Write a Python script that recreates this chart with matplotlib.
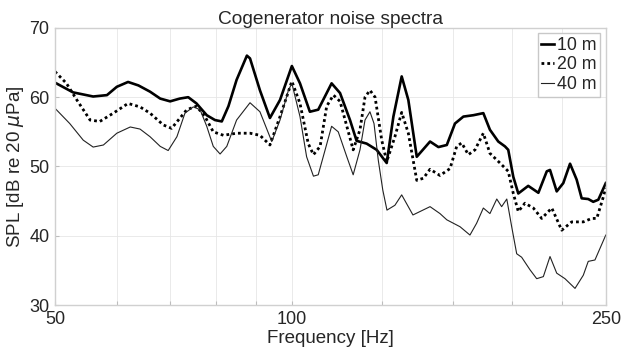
import matplotlib
matplotlib.use("Agg")
import matplotlib.pyplot as plt
from matplotlib.ticker import FixedLocator, NullFormatter, FixedFormatter

plt.rcParams['font.family'] = ['Liberation Sans', 'DejaVu Sans']

# 10 m
f10 = [50, 52.7, 55.9, 58.2, 59.9, 61.9, 63.8, 66.0, 68.0, 70.0, 72.0, 73.8, 75.6, 77.9, 79.8, 81.4, 83.0,
       85.0, 87.6, 88.4, 91.0, 93.7, 96.5, 99.9, 102.3, 105.3, 107.9, 112.2, 115.0, 118.4, 120.7, 124.3,
       128.0, 131.8, 134.4, 137.7, 140.4, 143.9, 149.6, 153.3, 157.1, 160.9, 164.9, 169.8, 174.8, 178.2,
       182.6, 186.2, 188.0, 190.8, 193.6, 199.3, 205.3, 210.4, 212.4, 216.6, 220.8, 225.2, 229.6, 233.0,
       237.5, 241.0, 244.6, 250]
spl10 = [62.1, 60.7, 60.1, 60.3, 61.5, 62.2, 61.7, 60.8, 59.8, 59.4, 59.8, 60.0, 59.1, 57.4, 56.7, 56.5, 58.7,
         62.5, 66.0, 65.6, 61.0, 57.0, 59.6, 64.5, 62.0, 57.9, 58.2, 62.0, 60.6, 56.7, 53.7, 53.3,
         52.4, 50.5, 57.2, 63.0, 59.6, 51.4, 53.6, 52.8, 53.1, 56.2, 57.2, 57.4, 57.7, 55.3,
         53.6, 52.9, 52.4, 48.5, 46.1, 47.2, 46.2, 49.3, 49.5, 46.4, 47.6, 50.4, 48.1, 45.4,
         45.3, 44.9, 45.2, 47.6]

# 20 m
f20 = [50, 51.7, 53.3, 55.4, 57.0, 59.3, 61.9, 64.1, 66.0, 68.6, 70.3, 71.7, 73.5, 75.6, 77.5, 79.4, 81.8,
       85.0, 88.4, 91.0, 93.7, 96.5, 99.9, 102.3, 104.8, 106.4, 108.5, 110.6, 112.8, 115.0, 117.3, 119.5,
       121.9, 123.7, 125.5, 127.4, 129.9, 131.8, 135.0, 137.7, 140.4, 143.9, 146.7, 149.6, 154.0, 158.6,
       161.7, 164.1, 167.3, 170.6, 174.8, 178.2, 183.5, 188.0, 190.8, 193.6, 197.4, 202.3, 207.3, 213.5,
       219.8, 226.3, 234.1, 239.9, 243.5, 248.2, 250]
spl20 = [63.7, 62.0, 59.6, 56.7, 56.5, 57.7, 59.1, 58.6, 57.7, 56.0, 55.5, 56.7, 58.2, 58.7, 57.2, 55.0, 54.5,
         54.8, 54.8, 54.5, 53.1, 57.2, 62.3, 59.1, 53.3, 51.7, 52.9, 58.7, 60.3, 59.4, 55.8, 52.4,
         55.3, 60.0, 61.0, 60.0, 53.8, 50.7, 54.3, 57.8, 54.8, 48.0, 48.3, 49.6, 48.7, 49.7,
         52.9, 53.4, 51.7, 52.4, 54.8, 51.9, 50.5, 49.3, 46.1, 43.5, 44.7, 44.0, 42.5, 44.0,
         40.8, 42.0, 42.0, 42.5, 42.5, 45.6, 46.9]

# 40 m
f40 = [50, 52.2, 54.3, 55.9, 57.6, 59.9, 62.3, 64.1, 66.0, 68.0, 69.6, 71.4, 73.1, 74.9, 76.4, 77.9, 79.4,
       81.0, 82.6, 85.0, 88.4, 91.0, 94.2, 96.5, 98.9, 99.9, 102.3, 104.3, 106.4, 107.9, 110.1, 112.2,
       114.4, 117.3, 119.5, 121.9, 123.7, 125.5, 127.0, 128.6, 130.3, 131.9, 135.0, 137.7, 142.3, 149.6,
       154.0, 157.1, 163.3, 168.1, 171.4, 174.8, 178.2, 181.8, 184.4, 187.2, 189.9, 192.7, 195.5, 200.3,
       204.3, 208.3, 212.4, 216.6, 221.9, 228.5, 234.1, 237.5, 242.2, 250]
spl40 = [58.4, 56.2, 53.8, 52.8, 53.1, 54.8, 55.7, 55.4, 54.3, 52.9, 52.3, 54.3, 57.7, 58.6, 58.2, 55.8, 52.9,
         51.8, 52.9, 56.7, 59.2, 57.9, 53.6, 56.7, 61.0, 62.0, 57.2, 51.4, 48.6, 48.8, 52.4, 55.8,
         55.0, 51.4, 48.8, 52.4, 56.7, 57.9, 56.2, 50.9, 46.6, 43.7, 44.4, 45.9, 43.0, 44.2,
         43.2, 42.3, 41.3, 40.1, 41.8, 44.0, 43.2, 45.3, 44.2, 45.3, 41.3, 37.4, 36.9, 35.1,
         33.8, 34.1, 37.0, 34.6, 33.8, 32.4, 34.3, 36.3, 36.5, 40.1]

labels = ['10 m', '20 m', '40 m']
xticks = [50, 60, 70, 80, 90, 100, 130, 160, 190, 220, 250]
xticklabels = ['50', '', '', '', '', '100', '', '', '', '', '250']
yticks = [30, 40, 50, 60, 70]

fig = plt.figure(figsize=(6.35, 3.58), dpi=100)
ax = fig.add_axes([0.0866, 0.148, 0.8674, 0.774])

txt = '#262626'
ax.plot(f10, spl10, color='black', lw=1.9, label=labels[0], solid_joinstyle='round')
ax.plot(f20, spl20, color='black', lw=2.0, linestyle=(0, (1, 1.1)), label=labels[1])
ax.plot(f40, spl40, color='#222222', lw=0.8, label=labels[2], solid_joinstyle='round')

ax.set_xscale('log')
ax.set_xlim(50, 250)
ax.set_ylim(30, 70)
ax.xaxis.set_major_locator(FixedLocator(xticks))
ax.xaxis.set_major_formatter(FixedFormatter(xticklabels))
ax.xaxis.set_minor_locator(FixedLocator([]))
ax.xaxis.set_minor_formatter(NullFormatter())
ax.set_yticks(yticks)

ax.grid(True, color='#e6e6e6', lw=0.6)
ax.set_axisbelow(True)
for s in ax.spines.values():
    s.set_color('#d0d0d0')
    s.set_linewidth(1.0)
ax.tick_params(direction='in', length=3, colors='#bdbdbd', labelcolor=txt, labelsize=13, pad=4)

ax.set_title('Cogenerator noise spectra', fontsize=13.8, color=txt, pad=3)
ax.set_xlabel('Frequency [Hz]', fontsize=13.5, color=txt, labelpad=2)
ax.set_ylabel(r'SPL [dB re 20 $\mu$Pa]', fontsize=13.5, color=txt, labelpad=2)

leg = ax.legend(loc='upper right', fontsize=12.8, handlelength=0.7, handletextpad=0.2,
                borderpad=0.2, labelspacing=0.15, borderaxespad=0.3, fancybox=False,
                framealpha=1, edgecolor='#c8c8c8')
for t in leg.get_texts():
    t.set_color(txt)

fig.savefig('out.png', dpi=100)
